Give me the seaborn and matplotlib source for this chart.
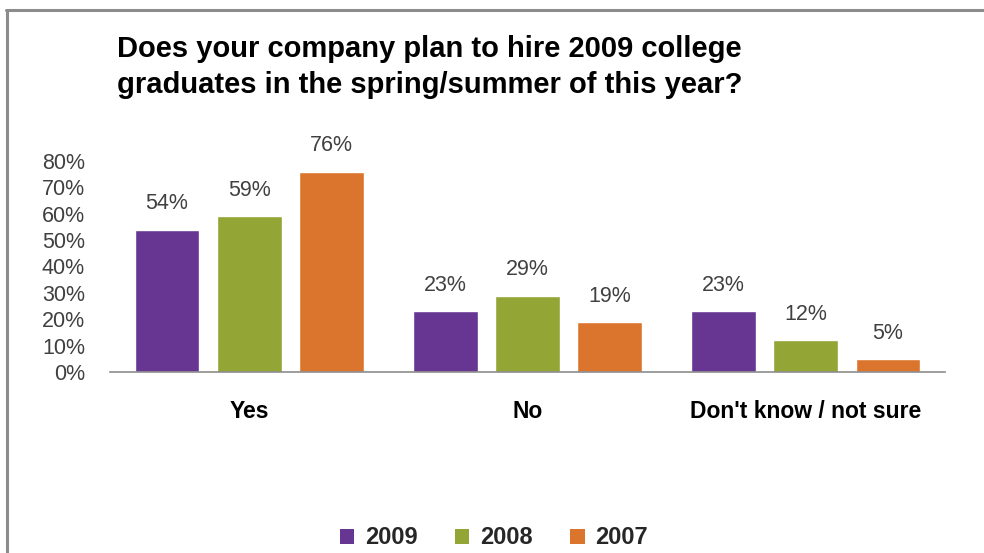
import matplotlib
matplotlib.use("Agg")
import matplotlib.pyplot as plt
from matplotlib.patches import Patch
import seaborn as sns
import pandas as pd

categories = ["Yes", "No", "Don't know / not sure"]
years = ["2009", "2008", "2007"]
values_2009 = [54, 23, 23]
values_2008 = [59, 29, 12]
values_2007 = [76, 19, 5]
y_ticks = [0, 10, 20, 30, 40, 50, 60, 70, 80]
colors = ["#673592", "#93A534", "#DB752E"]

df = pd.DataFrame({
    "category": categories * 3,
    "year": [y for y in years for _ in categories],
    "value": values_2009 + values_2008 + values_2007,
})

sns.set_theme(style="white")
plt.rcParams["font.family"] = ["Liberation Sans", "DejaVu Sans"]

fig = plt.figure(figsize=(9.84, 5.53), dpi=100)
ax = fig.add_axes([110 / 984, 1 - 372 / 553, 835 / 984, (372 - 161) / 553])

sns.barplot(data=df, x="category", y="value", hue="year", order=categories,
            hue_order=years, palette=colors, width=0.885, gap=0.21,
            saturation=1, ax=ax, legend=False)

ax.set_ylim(0, 80)
ax.set_xlim(-0.5, 2.5)
ax.set_yticks(y_ticks)
ax.set_yticklabels([f"{t}%" for t in y_ticks], fontsize=15.5, color="#404040")
ax.tick_params(axis="y", length=0, pad=18)
ax.tick_params(axis="x", length=0, pad=20)
ax.set_xticks(range(len(categories)))
ax.set_xticklabels(categories, fontsize=16.5, fontweight="bold", color="black")
ax.set_xlabel("")
ax.set_ylabel("")
for side in ["top", "right", "left"]:
    ax.spines[side].set_visible(False)
ax.spines["bottom"].set_color("#8c8c8c")
ax.spines["bottom"].set_linewidth(1.2)
ax.patch.set_alpha(0)

for container in ax.containers:
    for bar in container:
        h = bar.get_height()
        ax.annotate(f"{h:.0f}%", (bar.get_x() + bar.get_width() / 2, h),
                    xytext=(0, 11), textcoords="offset points",
                    ha="center", va="bottom", fontsize=15.5, color="#404040",
                    annotation_clip=False)

fig.text(117 / 984, 1 - 35 / 553,
         "Does your company plan to hire 2009 college\n"
         "graduates in the spring/summer of this year?",
         ha="left", va="top", fontsize=21, fontweight="bold",
         linespacing=1.35, color="black")

handles = [Patch(facecolor=c, edgecolor="none") for c in colors]
fig.legend(handles, years, loc="center", bbox_to_anchor=(0.502, 1 - 538 / 553),
           ncol=3, frameon=False, handlelength=0.6, handleheight=0.6,
           handletextpad=0.45, columnspacing=1.6,
           prop={"weight": "bold", "size": 17})

# Chart-area border along the top and left edges
fig.add_artist(plt.Line2D([6 / 984, 1], [1 - 10 / 553, 1 - 10 / 553],
                          transform=fig.transFigure, color="#8c8c8c", lw=2.2))
fig.add_artist(plt.Line2D([7 / 984, 7 / 984], [0, 1 - 10 / 553],
                          transform=fig.transFigure, color="#8c8c8c", lw=2.2))

fig.savefig("out.png", dpi=100, facecolor="white")
